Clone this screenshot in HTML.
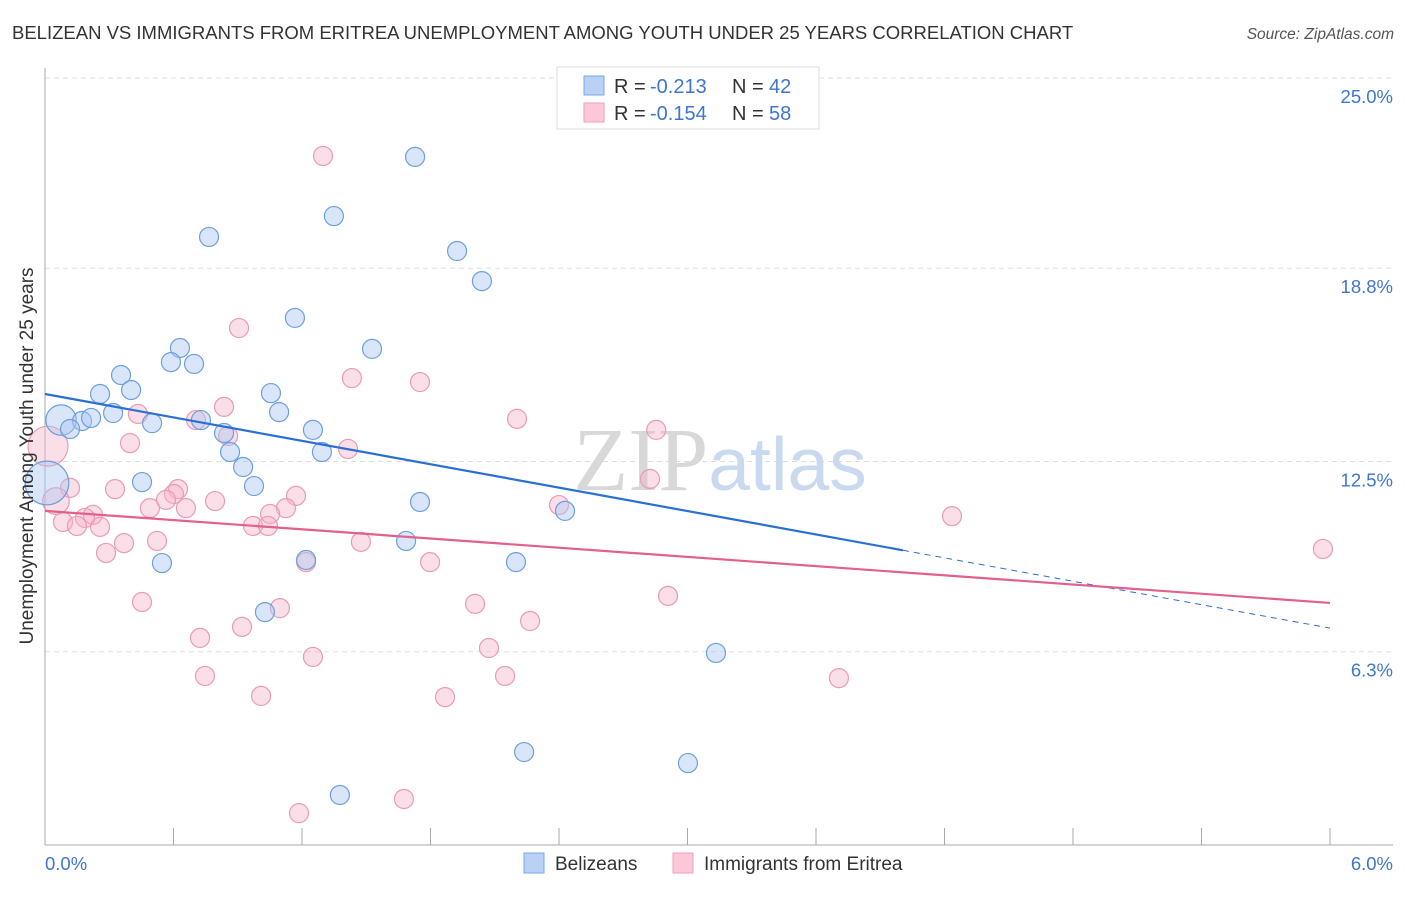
<!DOCTYPE html>
<html><head><meta charset="utf-8"><style>
body{margin:0;background:#fff;font-family:"Liberation Sans",sans-serif}
svg text{font-family:"Liberation Sans",sans-serif}
</style></head><body>
<svg id="chart" width="1406" height="892" xmlns="http://www.w3.org/2000/svg">
<text x="12" y="39" font-size="18.5" fill="#333">BELIZEAN VS IMMIGRANTS FROM ERITREA UNEMPLOYMENT AMONG YOUTH UNDER 25 YEARS CORRELATION CHART</text>
<text x="1394" y="39" font-size="15.5" fill="#555" font-style="italic" text-anchor="end">Source: ZipAtlas.com</text>
<g id="grid"></g>
<text x="720" y="490" font-size="90" text-anchor="middle"><tspan font-family="Liberation Serif" fill="#d8d8d8">ZIP</tspan><tspan fill="#c9d9f0" font-size="75">atlas</tspan></text>
<g id="points"></g>
<g id="trends"></g>
<text transform="translate(33,456) rotate(-90)" font-size="19" fill="#333" text-anchor="middle">Unemployment Among Youth under 25 years</text>
<g>
<rect x="557" y="67" width="262" height="62" fill="#fff" stroke="#ddd"/>
<rect x="584" y="76" width="20" height="19" fill="#b8d1f5" stroke="#7aa7e6"/>
<rect x="584" y="103" width="20" height="19" fill="#fcc8d8" stroke="#ef9fba"/>
<text x="614" y="93" font-size="20" fill="#333">R =</text>
<text x="650" y="93" font-size="20" fill="#3f75d1">-0.213</text>
<text x="732" y="93" font-size="20" fill="#333">N =</text>
<text x="769" y="93" font-size="20" fill="#3f75d1">42</text>
<text x="614" y="120" font-size="20" fill="#333">R =</text>
<text x="650" y="120" font-size="20" fill="#3f75d1">-0.154</text>
<text x="732" y="120" font-size="20" fill="#333">N =</text>
<text x="769" y="120" font-size="20" fill="#3f75d1">58</text>
</g>
<g>
<rect x="524" y="853" width="20" height="20" fill="#b8d1f5" stroke="#7aa7e6"/>
<text x="555" y="870" font-size="19" fill="#333">Belizeans</text>
<rect x="673" y="853" width="20" height="20" fill="#fcc8d8" stroke="#ef9fba"/>
<text x="704" y="870" font-size="19" fill="#333">Immigrants from Eritrea</text>
</g>
</svg>
<script>
const yTicks=[25.0,18.8,12.5,6.3];
const yTickLabels=["25.0%","18.8%","12.5%","6.3%"];
const xTickLabels=["0.0%","6.0%"];
const blueX=[2.484,1.728,1.349,0.766,1.924,2.040,1.167,1.527,0.630,0.588,0.696,0.355,0.257,0.402,1.055,0.318,1.093,0.075,0.173,0.215,0.117,0.500,0.728,1.251,0.836,0.864,1.293,0.925,0.009,0.453,0.976,1.751,2.428,1.686,0.546,2.199,1.219,1.027,3.133,2.237,3.002,1.377];
const blueY=[24.61,22.43,20.50,19.82,19.36,18.38,17.18,16.17,16.20,15.74,15.68,15.32,14.70,14.83,14.73,14.08,14.11,13.85,13.82,13.92,13.56,13.75,13.85,13.53,13.43,12.81,12.81,12.32,11.80,11.83,11.70,11.18,10.89,9.91,9.19,9.22,9.29,7.59,6.26,3.03,2.67,1.63];
const blueSize=[1,1,1,1,1,1,1,1,1,1,1,1,1,1,1,1,1,1.6,1,1,1,1,1,1,1,1,1,1,2.3,1,1,1,1,1,1,1,1,1,1,1,1,1];
const pinkX=[1.298,0.906,1.433,1.751,0.836,2.204,0.434,0.705,0.855,2.854,0.397,0.014,1.415,2.825,0.117,0.327,0.621,0.602,1.172,0.565,0.794,0.051,2.400,0.490,0.658,1.125,1.051,0.224,0.187,4.235,0.084,0.149,0.257,0.971,1.041,0.523,0.369,1.475,0.285,5.967,1.219,1.798,0.453,2.909,2.008,1.097,2.265,0.920,0.724,2.073,1.251,0.747,2.148,3.707,1.009,1.868,1.676,1.186];
const pinkY=[22.46,16.85,15.22,15.09,14.28,13.89,14.05,13.85,13.33,13.53,13.10,13.00,12.91,11.93,11.64,11.60,11.60,11.44,11.38,11.25,11.21,11.21,11.08,10.98,10.98,10.98,10.79,10.76,10.66,10.72,10.53,10.40,10.37,10.40,10.40,9.91,9.84,9.88,9.52,9.65,9.22,9.22,7.92,8.12,7.86,7.72,7.30,7.11,6.75,6.42,6.13,5.51,5.51,5.44,4.86,4.82,1.50,1.04];
const pinkBig={11:2.1,21:1.4};
const blueTrend=[14.70,7.07], blueBreak=4.006;
const pinkTrend=[10.89,7.89];
const X=v=>45+v/6*1285, Y=v=>845-v/25*767;
const NS="http://www.w3.org/2000/svg";
function mk(tag,attrs,parent){const e=document.createElementNS(NS,tag);for(const k in attrs)e.setAttribute(k,attrs[k]);parent.appendChild(e);return e;}
const grid=document.getElementById('grid');
yTicks.forEach((t,i)=>{
 const l=mk('line',{x1:45,x2:1393,y1:Y(t),y2:Y(t),stroke:'#ddd','stroke-dasharray':'5,4'},grid);
 
 
 const tx=mk('text',{x:1393,y:Y(t)+25,'font-size':18.5,fill:'#3f75d1','text-anchor':'end'},grid);
 tx.textContent=yTickLabels[i];
 
 
});
const ax=mk('line',{x1:45,x2:45,y1:68,y2:845,stroke:'#aaa'},grid);


const bx=mk('line',{x1:45,x2:1393,y1:845,y2:845,stroke:'#aaa'},grid);


for(let i=1;i<=10;i++){const tk=mk('line',{x1:X(i*0.6),x2:X(i*0.6),y1:828,y2:845,stroke:'#aaa'},grid);
 
 }
const xl0=mk('text',{x:45,y:870,'font-size':18.5,fill:'#3f75d1'},grid);xl0.textContent=xTickLabels[0];


const xl1=mk('text',{x:1393,y:870,'font-size':18.5,fill:'#3f75d1','text-anchor':'end'},grid);xl1.textContent=xTickLabels[1];


const pts=document.getElementById('points');
pinkX.forEach((x,i)=>{const c=mk('circle',{cx:X(x),cy:Y(pinkY[i]),r:9.5*(pinkBig[i]||1),fill:'rgba(246,178,201,0.42)',stroke:'#eb9ab5','stroke-width':1.2},pts);
 
 });
blueX.forEach((x,i)=>{const c=mk('circle',{cx:X(x),cy:Y(blueY[i]),r:9.5*blueSize[i],fill:'rgba(170,200,242,0.45)',stroke:'#6d9fe0','stroke-width':1.2},pts);
 
 });
const tr=document.getElementById('trends');
const by=x=>blueTrend[0]+(blueTrend[1]-blueTrend[0])*x/6;
const b1=mk('line',{x1:X(0),y1:Y(by(0)),x2:X(blueBreak),y2:Y(by(blueBreak)),stroke:'#2a6fd6','stroke-width':2.2},tr);


const b2=mk('line',{x1:X(blueBreak),y1:Y(by(blueBreak)),x2:X(6),y2:Y(by(6)),stroke:'#2a6fd6','stroke-width':1,'stroke-dasharray':'6,5'},tr);


const p1=mk('line',{x1:X(0),y1:Y(pinkTrend[0]),x2:X(6),y2:Y(pinkTrend[1]),stroke:'#e4608c','stroke-width':2.2},tr);


</script>
</body></html>
